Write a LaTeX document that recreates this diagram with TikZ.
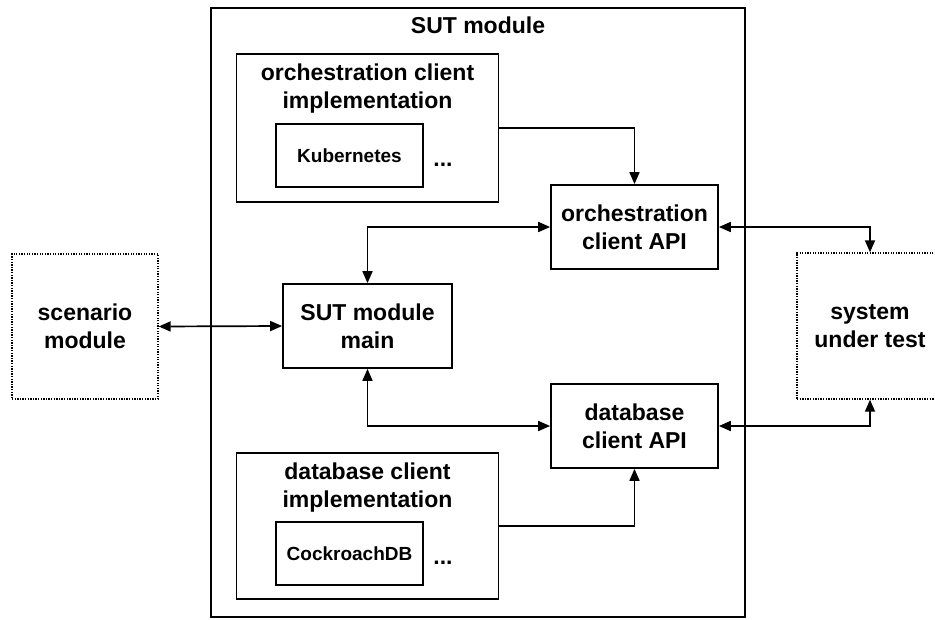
\documentclass[tikz,border=0pt]{standalone}
\usepackage{fontspec}
\setmainfont{Liberation Sans}
\usetikzlibrary{arrows.meta}

\tikzset{
  box/.style={draw, line width=1.7pt, rectangle, inner sep=0pt, align=center,
              font=\bfseries\fontsize{23}{28}\selectfont},
  extbox/.style={box, line width=1.4pt, dash pattern=on 1.3pt off 1.3pt},
  smallbox/.style={box, font=\bfseries\fontsize{19}{22}\selectfont},
  lbl/.style={inner sep=0pt, align=center, font=\bfseries\fontsize{23}{28}\selectfont},
  tip/.style={Triangle[length=12pt,width=10pt]},
  link/.style={line width=1.7pt, -{Triangle[length=12pt,width=10pt]}},
  duplex/.style={line width=1.7pt, {Triangle[length=12pt,width=10pt]}-{Triangle[length=12pt,width=10pt]}}
}

\begin{document}
\begin{tikzpicture}[x=1pt, y=-1pt]
\useasboundingbox (0,0) rectangle (935,619);

% SUT module frame
\node[box, minimum width=534pt, minimum height=609pt] (sut) at (478,312.5) {};
\node[lbl] (suttitle) at (478,25) {SUT module};

% orchestration client implementation
\node[box, minimum width=262pt, minimum height=148pt] (orchimpl) at (367.5,128) {};
\node[lbl] (orchimpllbl) at (367.5,89) {orchestration client\\implementation};
\node[smallbox, minimum width=147pt, minimum height=63pt] (kube) at (349.5,155.5) {Kubernetes};
\node[lbl, anchor=base] (kubedots) at (443,166) {...};

% database client implementation
\node[box, minimum width=262pt, minimum height=146pt] (dbimpl) at (367.5,526) {};
\node[lbl] (dbimpllbl) at (367.5,487.5) {database client\\implementation};
\node[smallbox, minimum width=147pt, minimum height=63pt] (cockroach) at (349.5,553.5) {CockroachDB};
\node[lbl, anchor=base] (cockroachdots) at (443,564) {...};

% client APIs and main
\node[box, minimum width=167pt, minimum height=84pt] (orchapi) at (634.5,227) {orchestration\\client API};
\node[box, minimum width=167pt, minimum height=84pt] (dbapi) at (634.5,426) {database\\client API};
\node[box, minimum width=169pt, minimum height=84pt] (main) at (367.5,326) {SUT module\\main};

% external parts
\node[extbox, minimum width=146pt, minimum height=145pt] (scenario) at (85,326.5) {scenario\\module};
\node[extbox, minimum width=146pt, minimum height=146pt] (system) at (870,326) {system\\under test};

% connectors
\draw[duplex] (scenario.east) -- (main.west);
\draw[duplex] (main.north) |- (orchapi.west);
\draw[duplex] (main.south) |- (dbapi.west);
\draw[link] (orchimpl.east) -| (orchapi.north);
\draw[link] (dbimpl.east) -| (dbapi.south);
\draw[duplex] (orchapi.east) -| (system.north);
\draw[duplex] (dbapi.east) -| (system.south);
\end{tikzpicture}
\end{document}
